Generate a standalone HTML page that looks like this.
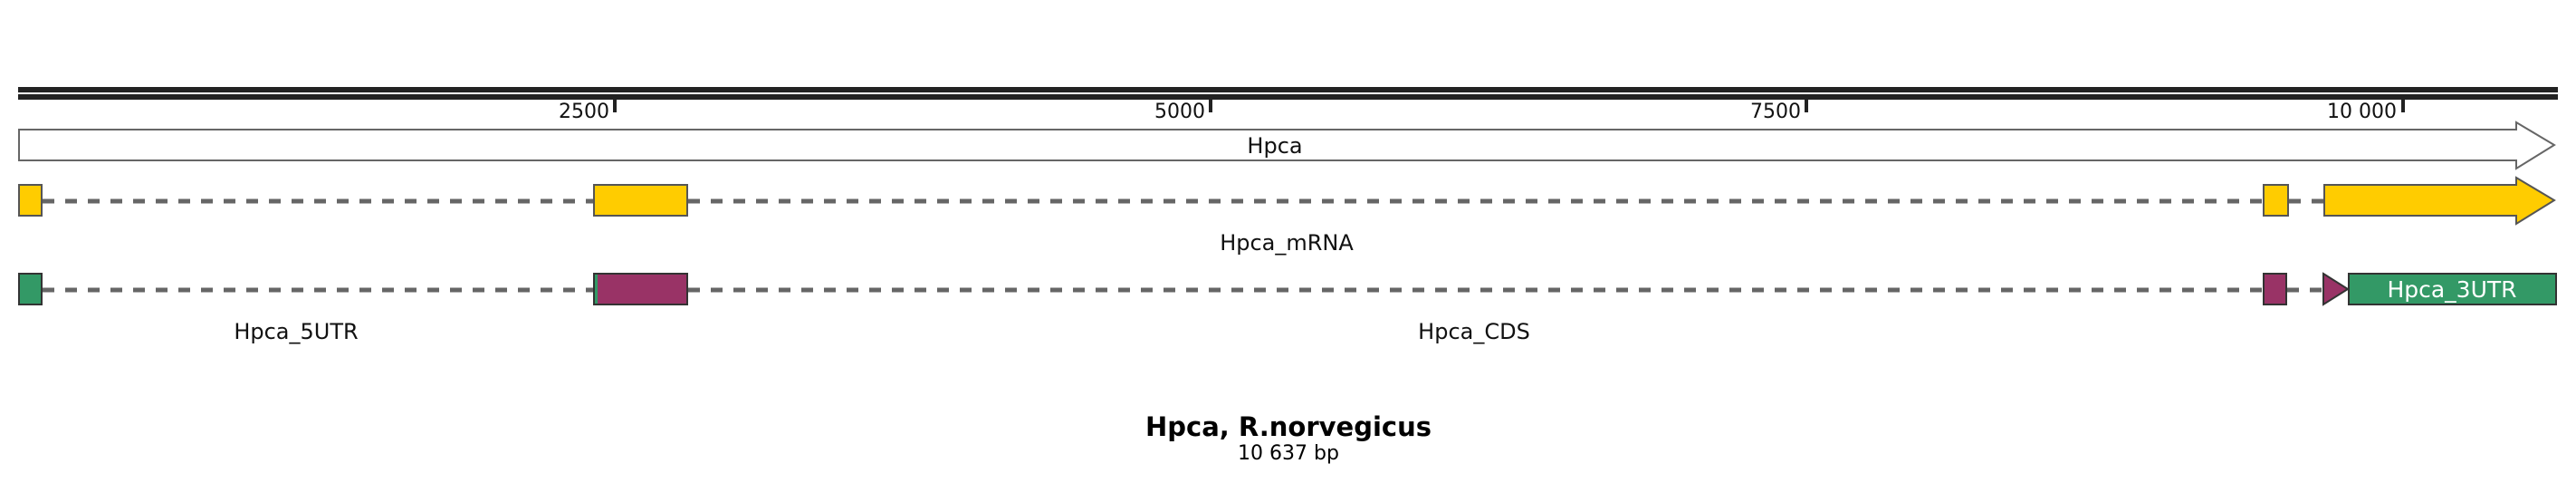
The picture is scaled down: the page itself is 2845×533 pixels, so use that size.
<!DOCTYPE html>
<html><head><meta charset="utf-8"><style>html,body{margin:0;padding:0;background:#fff}svg{display:block}</style></head>
<body>
<svg width="2845" height="533" viewBox="0 0 2845 533" xmlns="http://www.w3.org/2000/svg" font-family="'DejaVu Sans','Liberation Sans',sans-serif">
<rect x="20" y="96" width="2805" height="6" fill="#222"/>
<rect x="20" y="104" width="2805" height="6" fill="#222"/>
<g fill="#222">
<rect x="677" y="110" width="4" height="14"/>
<rect x="1335" y="110" width="4" height="14"/>
<rect x="1993" y="110" width="4" height="14"/>
<rect x="2652" y="110" width="4" height="14"/>
</g>
<g font-size="22" fill="#111" text-anchor="end">
<text x="673" y="130">2500</text>
<text x="1331" y="130">5000</text>
<text x="1989" y="130">7500</text>
<text x="2647" y="130">10 000</text>
</g>
<polygon points="21,143 2779,143 2779,135 2821,160 2779,186 2779,177 21,177" fill="#fff" stroke="#666" stroke-width="2"/>
<text x="1408" y="169" font-size="24" text-anchor="middle" fill="#111">Hpca</text>
<g stroke="#666" stroke-width="5" stroke-dasharray="13,12">
<line x1="47" y1="222" x2="655" y2="222"/>
<line x1="760" y1="222" x2="2498" y2="222"/>
<line x1="2528" y1="222" x2="2566" y2="222"/>
<line x1="47" y1="320" x2="655" y2="320"/>
<line x1="760" y1="320" x2="2498" y2="320"/>
<line x1="2526" y1="320" x2="2564" y2="320"/>
</g>
<g fill="#ffcc00" stroke="#555" stroke-width="2">
<rect x="21" y="204" width="25" height="34"/>
<rect x="656" y="204" width="103" height="34"/>
<rect x="2500" y="204" width="27" height="34"/>
<polygon points="2567,204 2779,204 2779,196 2821,221 2779,247 2779,238 2567,238"/>
</g>
<text x="1421" y="276" font-size="24" text-anchor="middle" fill="#111">Hpca_mRNA</text>
<g stroke="#333" stroke-width="2">
<rect x="21" y="302" width="25" height="34" fill="#339966"/>
<rect x="656" y="302" width="103" height="34" fill="#993366"/>
<rect x="2500" y="302" width="25" height="34" fill="#993366"/>
<polygon points="2566,302 2593,319 2566,336" fill="#993366"/>
<rect x="2594" y="302" width="229" height="34" fill="#339966"/>
</g>
<rect x="657" y="303" width="3" height="32" fill="#339966"/>
<text x="2708" y="328" font-size="25" text-anchor="middle" fill="#fff">Hpca_3UTR</text>
<text x="327" y="374" font-size="24" text-anchor="middle" fill="#111">Hpca_5UTR</text>
<text x="1628" y="374" font-size="24" text-anchor="middle" fill="#111">Hpca_CDS</text>
<text x="1423" y="481" font-size="29" font-weight="bold" text-anchor="middle" fill="#000">Hpca, R.norvegicus</text>
<text x="1423" y="507" font-size="22" text-anchor="middle" fill="#000">10 637 bp</text>
</svg>
</body></html>
